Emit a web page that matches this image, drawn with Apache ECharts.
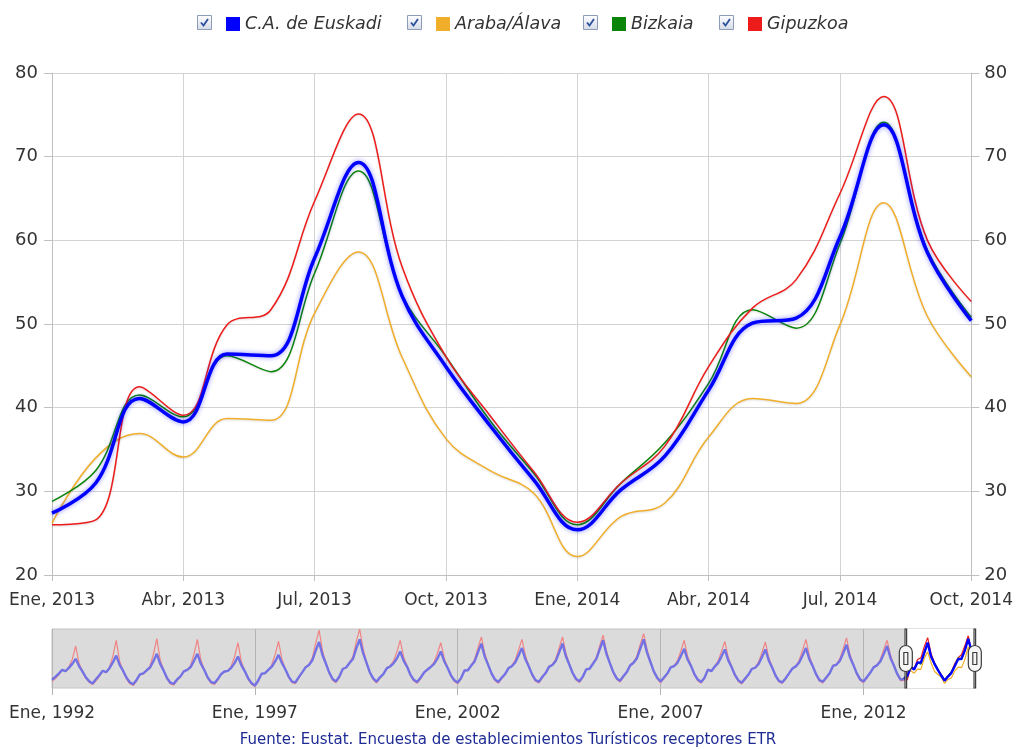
<!DOCTYPE html>
<html>
<head>
<meta charset="utf-8">
<script src="https://cdn.jsdelivr.net/npm/echarts@6/dist/echarts.min.js"></script>
<style>html,body{margin:0;padding:0;background:#fff;}#chart{width:1016px;height:749px;}</style>
</head>
<body>
<div id="chart"></div>
<script>
// ---- Data ----
const monthNames = ['Ene','Feb','Mar','Abr','May','Jun','Jul','Ago','Sep','Oct','Nov','Dic'];
const firstYear = 1992;
const lastYear = 2014;
const lastMonthIndex = 9; // Oct 2014
const seriesNames = ['C.A. de Euskadi', 'Araba/Álava', 'Bizkaia', 'Gipuzkoa'];

// Jan 2013 .. Oct 2014 (main view)
const euskadiRecent = [27.4, 31.0, 41.1, 38.3, 46.4, 46.2, 57.9, 69.3, 53.3, 44.9, 37.9, 31.4,
                       25.4, 30.2, 34.2, 42.1, 50.1, 50.7, 60.4, 73.8, 58.5, 50.4];
const arabaRecent   = [26.2, 34.0, 36.9, 34.1, 38.7, 38.5, 51.3, 58.6, 46.0, 36.3, 32.5, 29.8,
                       22.2, 27.0, 28.6, 36.5, 41.1, 40.5, 49.9, 64.5, 50.9, 43.7];
const bizkaiaRecent = [28.8, 32.5, 41.5, 38.9, 46.2, 44.3, 56.1, 68.3, 53.5, 46.1, 38.5, 32.2,
                       26.0, 31.0, 35.8, 42.9, 51.7, 49.5, 59.6, 74.1, 58.8, 50.8];
const gipuzkoaRecent= [26.0, 26.6, 42.5, 39.1, 49.9, 51.7, 64.7, 75.1, 56.8, 46.1, 39.1, 32.4,
                       26.3, 31.0, 35.4, 44.9, 51.9, 55.3, 65.6, 77.2, 60.0, 52.7];

// 1992 .. 2012 (navigator, estimated from the overview strip)
const euskadiHist = [
  [26.5, 29.8, 33.5, 38.0, 36.5, 40.2, 44.8, 50.6, 42.3, 36.1, 29.4, 24.8],
  [22.3, 27.1, 31.6, 36.9, 35.2, 39.8, 46.5, 54.4, 43.7, 37.0, 29.2, 23.6],
  [21.4, 26.3, 32.8, 33.9, 37.4, 40.6, 47.9, 56.4, 44.8, 37.3, 28.7, 23.1],
  [21.8, 26.9, 30.4, 36.2, 37.8, 41.1, 48.3, 56.4, 45.2, 38.0, 29.6, 24.0],
  [22.5, 27.0, 32.9, 36.0, 36.8, 40.3, 45.7, 53.3, 43.4, 36.5, 28.4, 22.7],
  [19.8, 25.6, 33.4, 34.1, 37.9, 41.5, 47.6, 55.2, 45.9, 38.6, 30.2, 24.4],
  [23.4, 29.5, 35.0, 40.8, 43.6, 48.9, 60.2, 70.0, 55.1, 45.2, 34.8, 27.3],
  [24.6, 30.2, 38.9, 40.6, 45.8, 50.4, 62.7, 73.1, 57.5, 46.3, 35.2, 28.1],
  [24.2, 29.3, 33.1, 39.6, 41.8, 45.3, 51.0, 59.1, 48.6, 41.7, 32.5, 26.4],
  [23.8, 28.7, 34.6, 38.1, 41.2, 44.9, 50.8, 59.1, 47.9, 40.4, 31.6, 25.9],
  [23.3, 28.4, 37.2, 37.5, 42.8, 47.6, 58.3, 68.1, 53.2, 43.6, 33.9, 27.0],
  [23.9, 28.8, 33.0, 39.7, 42.1, 46.5, 54.6, 63.0, 50.3, 42.0, 32.7, 26.2],
  [24.1, 29.6, 34.2, 41.3, 43.5, 48.2, 58.0, 68.1, 53.6, 44.1, 34.3, 27.5],
  [24.7, 30.1, 38.4, 39.2, 45.0, 50.6, 61.5, 72.0, 56.3, 45.7, 35.5, 28.3],
  [25.2, 30.6, 35.3, 42.9, 46.1, 51.3, 62.4, 73.1, 57.8, 47.0, 36.2, 28.9],
  [24.4, 29.0, 33.6, 40.7, 42.3, 46.0, 53.9, 62.2, 49.8, 42.5, 33.1, 26.7],
  [24.0, 28.9, 38.2, 36.4, 41.6, 45.7, 53.2, 61.5, 49.1, 41.3, 32.0, 25.8],
  [23.1, 27.8, 32.5, 38.9, 40.4, 44.6, 52.8, 61.5, 48.7, 40.6, 31.4, 25.2],
  [23.6, 28.3, 33.8, 39.5, 41.9, 46.3, 54.5, 63.0, 50.2, 42.2, 32.9, 26.1],
  [24.3, 29.1, 34.0, 42.4, 43.8, 48.1, 57.0, 66.9, 52.6, 43.9, 34.1, 27.2],
  [24.5, 29.4, 34.5, 40.8, 43.1, 47.5, 56.2, 65.3, 51.7, 43.0, 33.2, 26.6]
];
const gipuzkoaHist = [
  [24.8, 27.9, 32.1, 37.4, 35.8, 41.5, 50.2, 65.3, 45.6, 36.4, 28.0, 23.5],
  [20.9, 25.3, 30.2, 36.5, 34.6, 41.0, 53.8, 72.0, 47.9, 37.2, 27.6, 22.1],
  [19.8, 24.7, 32.5, 33.1, 37.0, 42.6, 55.9, 73.9, 49.3, 37.8, 27.1, 21.6],
  [20.3, 25.5, 29.6, 36.8, 37.4, 43.0, 56.1, 73.1, 49.8, 38.5, 28.3, 22.6],
  [21.0, 25.6, 32.4, 35.7, 36.2, 42.1, 53.0, 69.2, 47.5, 36.9, 27.0, 21.3],
  [18.6, 24.2, 33.0, 33.6, 37.5, 43.8, 55.4, 70.8, 50.2, 39.1, 29.0, 23.1],
  [22.0, 28.4, 34.6, 41.5, 44.0, 51.8, 68.7, 83.6, 60.4, 46.3, 33.7, 26.0],
  [23.1, 29.0, 39.5, 40.9, 46.4, 53.2, 70.5, 84.8, 62.9, 47.5, 34.1, 26.8],
  [22.8, 28.1, 32.6, 40.1, 42.2, 47.9, 58.6, 72.0, 52.8, 42.6, 31.4, 25.0],
  [22.4, 27.5, 34.3, 38.2, 41.5, 46.8, 57.1, 69.2, 51.6, 41.1, 30.5, 24.6],
  [21.9, 27.3, 37.6, 37.8, 43.2, 50.1, 63.5, 75.8, 57.0, 44.5, 32.8, 25.7],
  [22.5, 27.6, 32.8, 40.3, 42.5, 49.2, 61.0, 73.1, 54.9, 42.9, 31.6, 24.9],
  [22.7, 28.5, 33.9, 41.9, 44.0, 50.7, 63.2, 75.8, 57.4, 45.0, 33.2, 26.1],
  [23.3, 28.9, 38.7, 39.6, 45.7, 52.4, 65.8, 77.8, 59.6, 46.6, 34.4, 27.0],
  [23.8, 29.4, 35.1, 43.6, 46.9, 53.9, 67.4, 79.7, 61.8, 48.1, 35.0, 27.6],
  [23.0, 27.8, 33.3, 41.2, 42.8, 48.5, 59.7, 72.0, 53.5, 43.4, 32.0, 25.4],
  [22.6, 27.7, 38.6, 36.8, 42.0, 48.0, 58.9, 70.8, 52.7, 42.1, 30.9, 24.5],
  [21.7, 26.6, 32.2, 39.3, 40.8, 47.1, 58.0, 70.0, 52.1, 41.4, 30.3, 23.9],
  [22.2, 27.1, 33.5, 40.0, 42.4, 49.0, 60.6, 73.1, 54.3, 43.1, 31.8, 24.8],
  [22.9, 27.9, 33.7, 43.0, 44.3, 50.5, 62.1, 74.7, 56.0, 44.7, 33.0, 25.9],
  [23.1, 28.2, 34.1, 41.3, 43.6, 49.8, 61.2, 72.0, 55.2, 43.8, 32.1, 25.3]
];

const sourceText = 'Fuente: Eustat. Encuesta de establecimientos Turísticos receptores ETR';

// ---- Build categories / full series ----
const categories = [];
for (let y = firstYear; y <= lastYear; y++) {
  for (let m = 0; m < 12; m++) {
    if (y === lastYear && m > lastMonthIndex) break;
    categories.push(monthNames[m] + ', ' + y);
  }
}
const histLen = euskadiHist.length * 12;
const noHist = new Array(histLen).fill(null);
const euskadiAll = euskadiHist.flat().concat(euskadiRecent);
const arabaAll = noHist.concat(arabaRecent);
const bizkaiaAll = noHist.concat(bizkaiaRecent);
const gipuzkoaAll = gipuzkoaHist.flat().concat(gipuzkoaRecent);
const allData = [euskadiAll, arabaAll, bizkaiaAll, gipuzkoaAll];

const colors = ['#0000ff', '#f0ae2a', '#0a850a', '#ee1b1b'];
const fadedColors = ['#7272e4', '#ecc777', '#6aae6a', '#f08484'];
const FONT = "'DejaVu Sans', Verdana, sans-serif";
const startIdx = histLen;              // Jan 2013
const endIdx = categories.length - 1;  // Oct 2014

const chart = echarts.init(document.getElementById('chart'), null, {renderer: 'canvas'});

const mainSeries = seriesNames.map((name, i) => ({
  name: name,
  type: 'line',
  xAxisIndex: 0, yAxisIndex: 0,
  data: allData[i],
  smooth: 0.4,
  showSymbol: false,
  symbol: 'none',
  z: i === 0 ? 6 : 3,
  itemStyle: {color: colors[i]},
  lineStyle: i === 0
    ? {color: colors[i], width: 3.5, shadowColor: 'rgba(0,0,255,0.45)', shadowBlur: 5}
    : {color: colors[i], width: 1.5, shadowColor: 'rgba(0,0,0,0.15)', shadowBlur: 2, shadowOffsetY: 1},
  emphasis: {disabled: true}
}));

// Navigator: faded part outside the selected window, full colour inside it
const miniOrder = [3, 2, 1, 0];
const miniSeries = [];
miniOrder.forEach(i => {
  miniSeries.push({
    name: 'mini-hist-' + i, type: 'line', xAxisIndex: 1, yAxisIndex: 2,
    data: allData[i].map((v, k) => (k <= startIdx ? v : null)),
    showSymbol: false, symbol: 'none', silent: true, z: i === 0 ? 4 : 3,
    lineStyle: {color: fadedColors[i], width: i === 0 ? 2.4 : 1.2},
    emphasis: {disabled: true}
  });
});
miniOrder.forEach(i => {
  miniSeries.push({
    name: 'mini-sel-' + i, type: 'line', xAxisIndex: 1, yAxisIndex: 2,
    data: allData[i].map((v, k) => (k >= startIdx ? v : null)),
    showSymbol: false, symbol: 'none', silent: true, z: i === 0 ? 4 : 3,
    lineStyle: {color: colors[i], width: i === 0 ? 2.4 : 1.2},
    emphasis: {disabled: true}
  });
});

const legendLefts = [226, 436, 612, 748];
const legends = seriesNames.map((name, i) => ({
  data: [name],
  left: legendLefts[i],
  top: 15,
  padding: 0,
  icon: 'rect',
  itemWidth: 14,
  itemHeight: 14,
  itemGap: 0,
  textStyle: {fontFamily: FONT, fontSize: 17.5, fontStyle: 'italic', color: '#333'}
}));

const checkGrad = new echarts.graphic.LinearGradient(0, 0, 0, 1, [
  {offset: 0, color: '#ffffff'}, {offset: 1, color: '#d3dae6'}
]);
const checkboxes = legendLefts.map(l => ({
  type: 'group',
  left: l - 29,
  top: 15,
  silent: true,
  children: [
    {type: 'rect', shape: {x: 0.5, y: 0.5, width: 14, height: 14}, style: {fill: checkGrad, stroke: '#8c9cb6', lineWidth: 1}},
    {type: 'polyline', shape: {points: [[4, 7.5], [6.5, 10.5], [11, 4]]}, style: {stroke: '#2c4f9c', lineWidth: 1.8, fill: null}}
  ]
}));

const handlePath = 'path://M-0.8,-29.5L0.8,-29.5L0.8,-13L-0.8,-13Z' +
  'M-0.8,13L0.8,13L0.8,29.5L-0.8,29.5Z' +
  'M-6.5,-6.5A6.5,6.5 0 0 1 6.5,-6.5L6.5,6.5A6.5,6.5 0 0 1 -6.5,6.5Z' +
  'M-2,-6L2,-6L2,6L-2,6Z';

const labelEvery3 = (idx) => idx % 3 === 0;
const labelEvery60 = (idx) => idx % 60 === 0;

const option = {
  animation: false,
  backgroundColor: '#ffffff',
  textStyle: {fontFamily: FONT},
  title: {
    text: sourceText,
    left: 'center',
    bottom: 1,
    padding: 0,
    textStyle: {fontFamily: FONT, fontSize: 15, fontWeight: 'normal', color: '#1e2b94'}
  },
  legend: legends,
  graphic: checkboxes,
  grid: [
    {left: 52, right: 41, top: 73, bottom: 174, containLabel: false},
    {left: 52, right: 41, top: 629, height: 59, show: true, backgroundColor: '#dbdbdb', borderColor: '#c4c4c4', borderWidth: 1}
  ],
  xAxis: [
    {
      type: 'category', gridIndex: 0, data: categories, boundaryGap: false,
      axisLine: {show: true, lineStyle: {color: '#c0c0c0'}},
      axisTick: {show: true, interval: labelEvery3, length: 6, lineStyle: {color: '#c0c0c0'}},
      axisLabel: {interval: labelEvery3, fontSize: 17, color: '#333', margin: 17, fontFamily: FONT},
      splitLine: {show: true, interval: labelEvery3, lineStyle: {color: '#d3d3d3', width: 1}}
    },
    {
      type: 'category', gridIndex: 1, data: categories, boundaryGap: false,
      axisLine: {show: false},
      axisTick: {show: true, interval: labelEvery60, length: 7, lineStyle: {color: '#b4b4b4'}},
      axisLabel: {interval: labelEvery60, fontSize: 17, color: '#333', margin: 17, fontFamily: FONT},
      splitLine: {show: true, interval: labelEvery60, lineStyle: {color: '#b4b4b4', width: 1}}
    }
  ],
  yAxis: [
    {
      type: 'value', gridIndex: 0, min: 20, max: 80, interval: 10, position: 'left',
      axisLine: {show: true, lineStyle: {color: '#c0c0c0'}},
      axisTick: {show: true, length: 8, lineStyle: {color: '#c0c0c0'}},
      axisLabel: {fontSize: 18, color: '#333', margin: 14, fontFamily: FONT},
      splitLine: {show: true, lineStyle: {color: '#d3d3d3', width: 1}}
    },
    {
      type: 'value', gridIndex: 0, min: 20, max: 80, interval: 10, position: 'right',
      axisLine: {show: true, lineStyle: {color: '#c0c0c0'}},
      axisTick: {show: true, length: 8, lineStyle: {color: '#c0c0c0'}},
      axisLabel: {fontSize: 18, color: '#333', margin: 13, fontFamily: FONT},
      splitLine: {show: false}
    },
    {
      type: 'value', gridIndex: 1, min: 17, max: 85, show: false,
      splitLine: {show: false}
    }
  ],
  dataZoom: [
    {
      type: 'slider', xAxisIndex: 0, startValue: startIdx, endValue: endIdx,
      left: 52, right: 41, top: 629, height: 59, z: 1,
      backgroundColor: 'rgba(0,0,0,0)', borderColor: 'rgba(0,0,0,0)',
      fillerColor: '#ffffff', showDataShadow: false, showDetail: false,
      brushSelect: false, moveHandleSize: 0, handleSize: 0,
      handleStyle: {color: 'rgba(0,0,0,0)', borderColor: 'rgba(0,0,0,0)'},
      dataBackground: {lineStyle: {opacity: 0}, areaStyle: {opacity: 0}},
      selectedDataBackground: {lineStyle: {opacity: 0}, areaStyle: {opacity: 0}}
    },
    {
      type: 'slider', xAxisIndex: 0, startValue: startIdx, endValue: endIdx,
      left: 52, right: 41, top: 629, height: 59, z: 10,
      backgroundColor: 'rgba(0,0,0,0)', borderColor: 'rgba(0,0,0,0)',
      fillerColor: 'rgba(0,0,0,0)', showDataShadow: false, showDetail: false,
      brushSelect: false, moveHandleSize: 0,
      handleIcon: handlePath, handleSize: '100%',
      handleStyle: {color: '#f6f6f6', borderColor: '#3c3c3c', borderWidth: 1.2},
      emphasis: {handleStyle: {color: '#f6f6f6', borderColor: '#3c3c3c', borderWidth: 1.2}},
      dataBackground: {lineStyle: {opacity: 0}, areaStyle: {opacity: 0}},
      selectedDataBackground: {lineStyle: {opacity: 0}, areaStyle: {opacity: 0}}
    }
  ],
  series: mainSeries.concat(miniSeries)
};

chart.setOption(option);
</script>
</body>
</html>
